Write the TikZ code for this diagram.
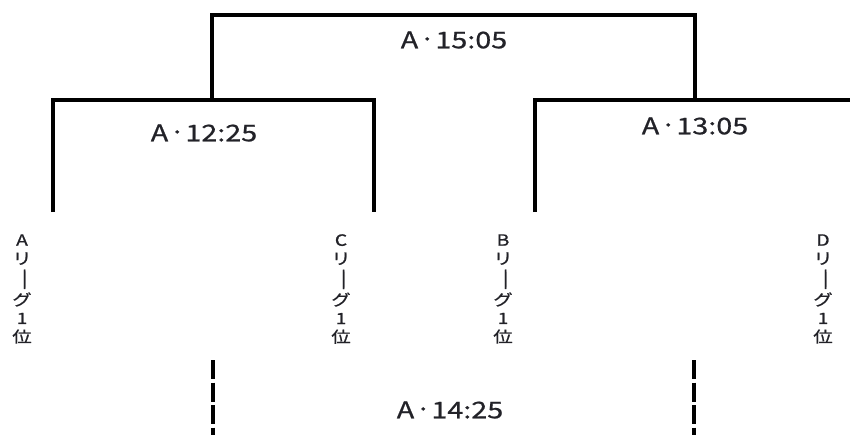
\documentclass[tikz,border=0pt]{standalone}
\usepackage{fontspec}
\usepackage{graphicx}
\newfontfamily\jpfont[FakeStretch=1.25,FakeBold=0.8]{Noto Sans CJK JP}
\definecolor{txt}{HTML}{222228}
\newcommand{\mdot}{\kern1pt\raisebox{1pt}{·}\kern0pt}
\newcommand{\vbar}{\rotatebox[origin=c]{-90}{\scalebox{1.25}[1]{ー}}}
\begin{document}
\begin{tikzpicture}[x=1pt,y=-1pt,
  bracket/.style={line width=4.5pt, line join=miter, line cap=butt},
  dashline/.style={line width=4.5pt, dash pattern=on 19pt off 3.5pt},
  time/.style={font=\jpfont\fontsize{23}{23}\selectfont, text=txt, inner sep=0pt},
  team/.style={font=\jpfont\fontsize{15.5}{18.5}\selectfont, align=center, text=txt, inner sep=0pt}]
\useasboundingbox (0,0) rectangle (850,434);
\clip (0,0) rectangle (850,434);

% team labels
\node[team] (A) at (22,289) {A\\リ\\\vbar\\グ\\1\\位};
\node[team] (C) at (341,289) {C\\リ\\\vbar\\グ\\1\\位};
\node[team] (B) at (503,289) {B\\リ\\\vbar\\グ\\1\\位};
\node[team] (D) at (823,289) {D\\リ\\\vbar\\グ\\1\\位};

% times
\node[time] (t1505) at (454,40) {A\mdot15:05};
\node[time] (t1225) at (204,133) {A\mdot12:25};
\node[time] (t1305) at (695,126) {A\mdot13:05};
\node[time] (t1425) at (450,410) {A\mdot14:25};

% bracket points
\coordinate (Aend) at (53,212);
\coordinate (Cend) at (374,212);
\coordinate (Bend) at (535,212);
\coordinate (Dend) at (857,212);
\coordinate (Cjoin) at (374,100);
\coordinate (Djoin) at (857,100);
\coordinate (Ltop) at (212,100);
\coordinate (Rtop) at (695,100);
\coordinate (Top) at (695,15);
\coordinate (dl1) at (213,360);
\coordinate (dl2) at (213,445);
\coordinate (dr1) at (694,360);
\coordinate (dr2) at (694,445);

\draw[bracket] (Aend) |- (Cjoin) -- (Cend);
\draw[bracket] (Bend) |- (Djoin) -- (Dend);
\draw[bracket] (Ltop) |- (Top) -- (Rtop);
\draw[dashline] (dl1) -- (dl2);
\draw[dashline] (dr1) -- (dr2);
\end{tikzpicture}
\end{document}
